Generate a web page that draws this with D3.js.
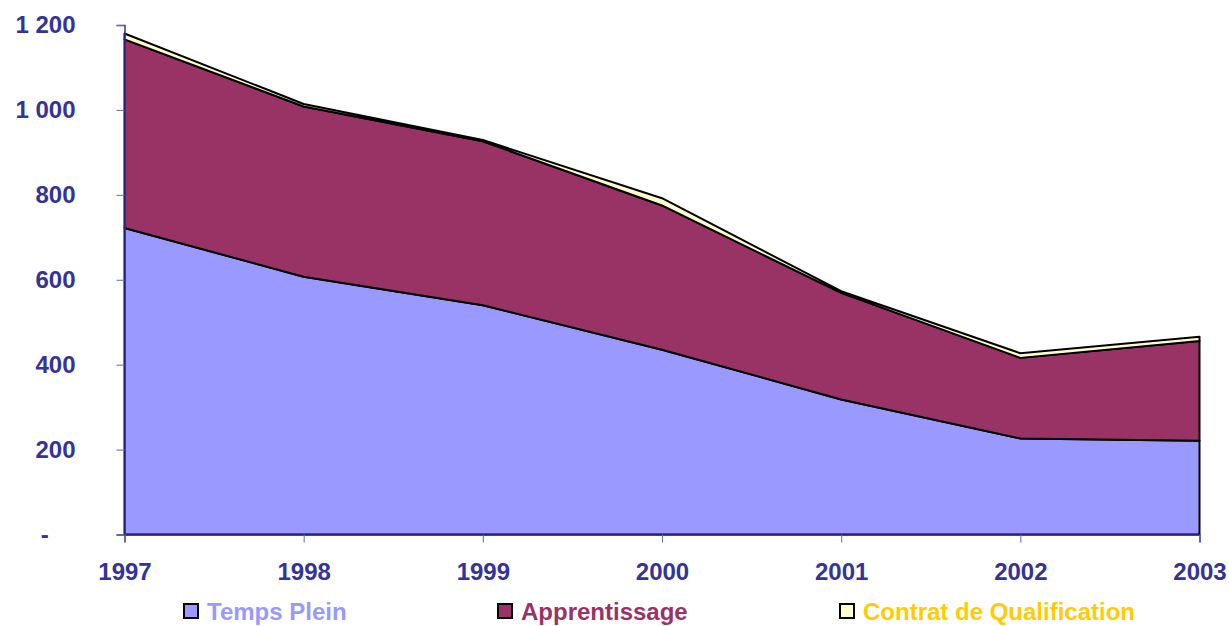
<!DOCTYPE html>
<html><head><meta charset="utf-8">
<script src="https://cdn.jsdelivr.net/npm/d3@7"></script>
<style>html,body{margin:0;padding:0;background:#fff;}svg{display:block;font-family:Arial,"Liberation Sans",sans-serif;font-weight:bold;}</style>
</head><body><svg id="c" width="1229" height="626"></svg>
<script>
const years = [1997, 1998, 1999, 2000, 2001, 2002, 2003];
const tempsPlein = [722, 607, 540, 435, 318, 226, 221];
const apprentissage = [444, 401, 386, 340, 251, 190, 235];
const contratQualification = [14, 6, 3, 17, 4, 11, 10];
const seriesNames = ["Temps Plein", "Apprentissage", "Contrat de Qualification"];
const yTicks = [0, 200, 400, 600, 800, 1000, 1200];

const fills = ["#9999FF", "#993366", "#FFFFCC"];
const legendText = ["#9999FF", "#993366", "#FFCC00"];
const axisColor = "#333399";

const svg = d3.select("#c");
const x = d3.scalePoint().domain(years).range([124.5, 1199.5]);
const y = d3.scaleLinear().domain([0, 1200]).range([534.5, 25]);

const rows = years.map((yr, i) => ({year: yr, tp: tempsPlein[i], ap: apprentissage[i], cq: contratQualification[i]}));
const stack = d3.stack().keys(["tp", "ap", "cq"])(rows);

const area = d3.area().x(d => x(d.data.year)).y0(d => y(d[0])).y1(d => y(d[1]));
svg.append("g").selectAll("path").data(stack).join("path")
  .attr("d", area)
  .attr("fill", (d, i) => fills[i])
  .attr("stroke", "#000")
  .attr("stroke-width", 2)
  .attr("stroke-linejoin", "round");

// y axis
const fmt = v => v === 0 ? "-\u00a0\u00a0\u00a0\u00a0" : d3.format(",")(v).replace(",", " ");
const yAxis = d3.axisLeft(y).tickValues(yTicks).tickFormat(fmt).tickSize(8).tickPadding(41);
const gy = svg.append("g").attr("transform", "translate(124.5,0)").call(yAxis);
gy.select(".domain").attr("stroke", axisColor).attr("stroke-width", 1.5);
gy.selectAll(".tick line").attr("stroke", "#6666BB").attr("stroke-width", 1);
gy.selectAll(".tick text").attr("fill", axisColor).attr("font-size", 24).attr("font-weight", "bold")
  .attr("font-family", "Arial, 'Liberation Sans', sans-serif");

// x axis
const xAxis = d3.axisBottom(x).tickSize(8).tickPadding(20);
const gx = svg.append("g").attr("transform", "translate(0,534.5)").call(xAxis);
gx.select(".domain").attr("stroke", axisColor).attr("stroke-width", 1.5);
gx.selectAll(".tick line").attr("stroke", "#6666BB").attr("stroke-width", 1);
gx.selectAll(".tick text").attr("fill", axisColor).attr("font-size", 24).attr("font-weight", "bold")
  .attr("font-family", "Arial, 'Liberation Sans', sans-serif");

// legend
const legendX = [184, 498, 840];
const lg = svg.append("g").selectAll("g").data(seriesNames).join("g")
  .attr("transform", (d, i) => `translate(${legendX[i]},604)`);
lg.append("rect").attr("width", 14).attr("height", 14)
  .attr("fill", (d, i) => fills[i]).attr("stroke", "#000").attr("stroke-width", 2);
lg.append("text").attr("x", 23).attr("y", 16).text(d => d)
  .attr("fill", (d, i) => legendText[i]).attr("font-size", 24);
</script></body></html>
